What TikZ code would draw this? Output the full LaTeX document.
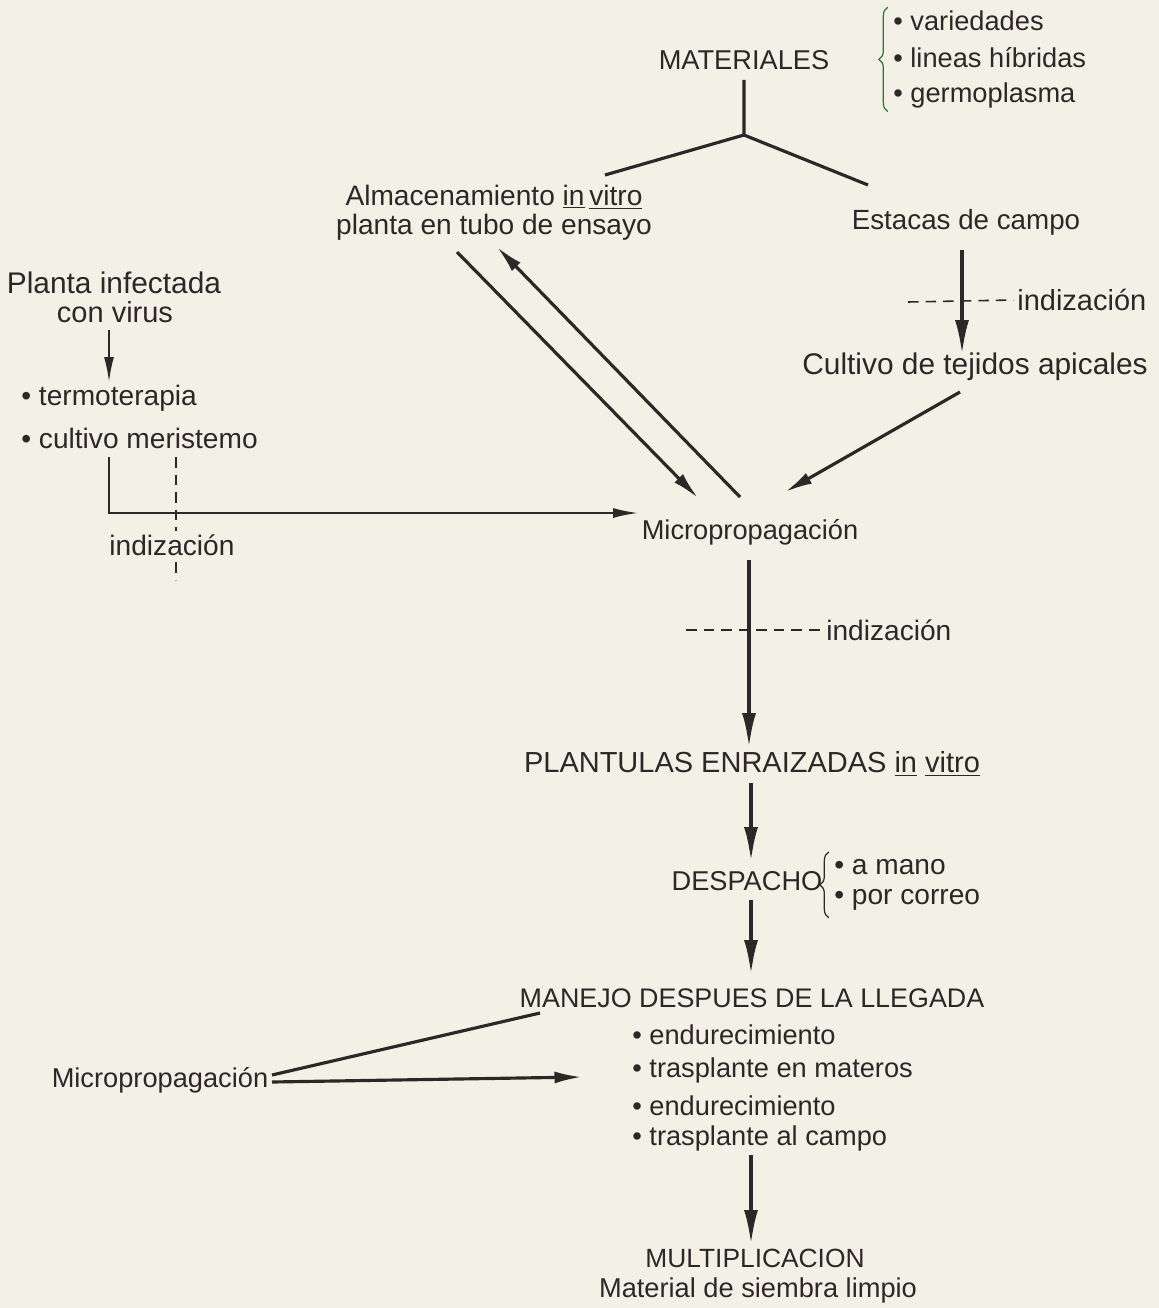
\documentclass[tikz,border=0pt]{standalone}
\usepackage{fontspec}
\setmainfont{Liberation Sans}
\usepackage{xcolor}
\usetikzlibrary{arrows.meta,positioning,decorations.pathreplacing}

\definecolor{papel}{RGB}{243,240,229}
\definecolor{tinta}{RGB}{45,40,40}
\definecolor{verde}{RGB}{45,115,55}

\newcommand{\tam}[1]{\fontsize{#1}{#1}\selectfont}

\begin{document}
\begin{tikzpicture}[
			x=0.02cm, y=-0.02cm,
			every node/.style={text=tinta, inner sep=0pt},
			txt/.style={font=\tam{16}},
			caps/.style={font=\tam{15}},
			lista/.style={txt, anchor=west},
			arrow/.style={draw=tinta, line width=2.2pt, -{Latex[length=7mm,width=2.8mm]}},
			diagarrow/.style={draw=tinta, line width=1.8pt, -{Latex[length=5.5mm,width=2.4mm]}},
			thinarrow/.style={draw=tinta, line width=1.1pt, -{Latex[length=5mm,width=2mm]}},
			link/.style={draw=tinta, line width=1.8pt},
			dashline/.style={draw=tinta, line width=0.9pt, dash pattern=on 6pt off 4pt},
			bracket/.style={decorate, decoration={brace, amplitude=5pt}, line width=0.7pt}
			]
			
			\fill[papel] (0,0) rectangle (1159,1308);
			\useasboundingbox (0,0) rectangle (1159,1308);
			
			% nodos
			\node[caps, font=\tam{15.5}] (mat) at (744,60) {MATERIALES};
			\node[lista, font=\tam{15.5}] (var) at (893,21) {• variedades};
			\node[lista, font=\tam{15.5}] (lin) at (893,58) {• lineas híbridas};
			\node[lista, font=\tam{15.5}] (ger) at (893,95) {• germoplasma};
			\node[txt] (alm) at (494,197) {Almacenamiento \underline{in}\,\underline{vitro}};
			\node[txt] (tubo) at (494,227) {planta en tubo de ensayo};
			\node[txt, font=\tam{15.8}] (est) at (966,222) {Estacas de campo};
			\node[lista, font=\tam{16.5}] (ind1) at (1017,300) {indización};
			\node[txt, font=\tam{17}] (cult) at (975,367) {Cultivo de tejidos apicales};
			\node[txt, font=\tam{17}] (inf) at (114,283) {Planta infectada};
			\node[txt, font=\tam{16.5}] (vir) at (115,312) {con virus};
			\node[lista, font=\tam{16}] (ter) at (21,398) {• termoterapia};
			\node[lista, font=\tam{16}] (mer) at (21,438) {• cultivo meristemo};
			\node[txt, font=\tam{15.5}] (micro) at (750,532) {Micropropagación};
			\node[lista] (ind3) at (826,630) {indización};
			\node[caps, font=\tam{16.5}] (plan) at (752,764) {PLANTULAS ENRAIZADAS \underline{in} \underline{vitro}};
			\node[caps, font=\tam{15.5}] (desp) at (747,881) {DESPACHO};
			\node[lista] (mano) at (834,867) {• a mano};
			\node[lista] (correo) at (834,900) {• por correo};
			\node[caps, font=\tam{15.3}] (man) at (752,998) {MANEJO DESPUES DE LA LLEGADA};
			\node[lista, font=\tam{15.5}] (end1) at (632,1035) {• endurecimiento};
			\node[lista, font=\tam{15.5}] (tras1) at (632,1070) {• trasplante en materos};
			\node[lista, font=\tam{15.5}] (end2) at (632,1106) {• endurecimiento};
			\node[lista, font=\tam{15.5}] (tras2) at (632,1138) {• trasplante al campo};
			\node[txt, font=\tam{15.5}] (micro2) at (160,1080) {Micropropagación};
			\node[caps, font=\tam{15}] (mult) at (755,1258) {MULTIPLICACION};
			\node[txt, font=\tam{15.5}] (limpio) at (758,1290) {Material de siembra limpio};
			
			% puntos de los conectores
			\coordinate (m1) at (744,80);
			\coordinate (rama) at (744,135);
			\coordinate (m2) at (605,175);
			\coordinate (m3) at (868,185);
			\coordinate (e1) at (962,250);
			\coordinate (e2) at (962,355);
			\coordinate (c1) at (960,392);
			\coordinate (c2) at (785,492);
			\coordinate (a1) at (457,252);
			\coordinate (a2) at (698,498);
			\coordinate (a3) at (740,497);
			\coordinate (a4) at (497,247);
			\coordinate (p1) at (109,330);
			\coordinate (p2) at (109,382);
			\coordinate (l1) at (109,457);
			\coordinate (l2) at (109,513);
			\coordinate (l3) at (638,513);
			\coordinate (d1) at (176,457);
			\coordinate (d2) at (176,580);
			\coordinate (v1) at (749,560);
			\coordinate (v2) at (749,748);
			\coordinate (v3) at (751,783);
			\coordinate (v4) at (751,862);
			\coordinate (v5) at (751,900);
			\coordinate (v6) at (751,975);
			\coordinate (v7) at (751,1155);
			\coordinate (v8) at (751,1245);
			\coordinate (b1) at (272,1075);
			\coordinate (b2) at (540,1013);
			\coordinate (b3) at (272,1082);
			\coordinate (b4) at (582,1077);
			
			% conectores
			\draw[link] (m1) -- (rama) -- (m2);
			\draw[link] (rama) -- (m3);
			\draw[arrow] (e1) -- (e2);
			\draw[dashline] (908,302) -- ([xshift=-2pt]ind1.west);
			\draw[diagarrow] (c1) -- (c2);
			\draw[diagarrow] (a1) -- (a2);
			\draw[diagarrow] (a3) -- (a4);
			\draw[thinarrow] (p1) -- (p2);
			\draw[thinarrow] (l1) -- (l2) -- (l3);
			\draw[dashline] (d1) -- (d2);
			\node[txt, font=\tam{16}, fill=papel, inner sep=2pt] (ind2) at (172,545) {indización};
			\draw[arrow] (v1) -- (v2);
			\draw[dashline] (686,630) -- ([xshift=-3pt]ind3.west);
			\draw[arrow] (v3) -- (v4);
			\draw[arrow] (v5) -- (v6);
			\draw[arrow] (v7) -- (v8);
			\draw[link] (b1) -- (b2);
			\draw[diagarrow] (b3) -- (b4);
			
			% llaves
			\draw[bracket, draw=verde] ([xshift=-3pt,yshift=-2pt]ger.south west) -- ([xshift=-3pt,yshift=2pt]var.north west);
			\draw[bracket, draw=tinta] ([xshift=-3pt,yshift=-4pt]correo.south west) -- ([xshift=-3pt,yshift=4pt]mano.north west);
			
		\end{tikzpicture}
\end{document}
